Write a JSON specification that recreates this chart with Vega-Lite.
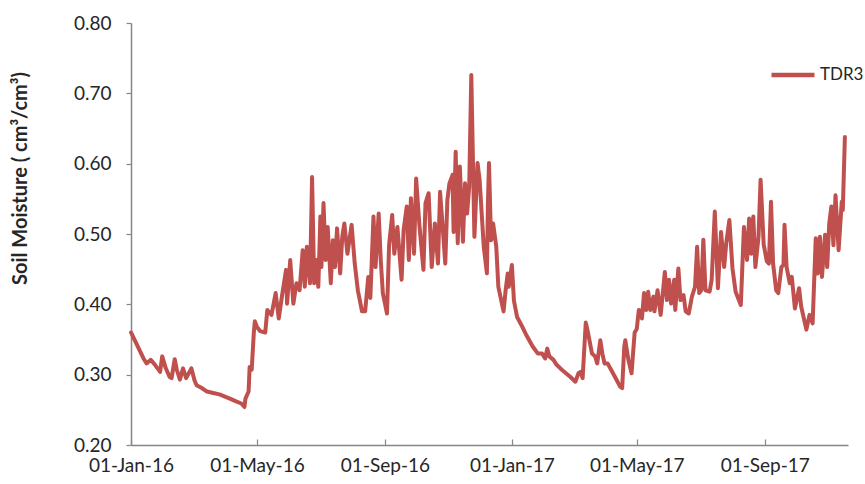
{
  "$schema": "https://vega.github.io/schema/vega-lite/v6.json",
  "autosize": {"type": "none"},
  "padding": {"left": 131, "top": 23, "right": 17, "bottom": 39},
  "width": 717,
  "height": 422,
  "config": {
    "view": {"stroke": null},
    "font": "Lato",
    "axis": {"labelFont": "Lato", "titleFont": "Lato", "grid": false, "domainColor": "#868686", "tickColor": "#868686", "labelColor": "#262626", "domainWidth": 1.5, "tickWidth": 1.2}
  },
  "data": {"values": [
    {"date": "2016-01-01", "v": 0.360, "s": "TDR3"},
    {"date": "2016-01-13", "v": 0.323, "s": "TDR3"},
    {"date": "2016-01-16", "v": 0.316, "s": "TDR3"},
    {"date": "2016-01-20", "v": 0.321, "s": "TDR3"},
    {"date": "2016-01-24", "v": 0.314, "s": "TDR3"},
    {"date": "2016-01-29", "v": 0.304, "s": "TDR3"},
    {"date": "2016-01-31", "v": 0.326, "s": "TDR3"},
    {"date": "2016-02-03", "v": 0.311, "s": "TDR3"},
    {"date": "2016-02-07", "v": 0.297, "s": "TDR3"},
    {"date": "2016-02-09", "v": 0.295, "s": "TDR3"},
    {"date": "2016-02-12", "v": 0.322, "s": "TDR3"},
    {"date": "2016-02-14", "v": 0.307, "s": "TDR3"},
    {"date": "2016-02-17", "v": 0.293, "s": "TDR3"},
    {"date": "2016-02-20", "v": 0.309, "s": "TDR3"},
    {"date": "2016-02-23", "v": 0.295, "s": "TDR3"},
    {"date": "2016-02-28", "v": 0.309, "s": "TDR3"},
    {"date": "2016-03-02", "v": 0.292, "s": "TDR3"},
    {"date": "2016-03-04", "v": 0.285, "s": "TDR3"},
    {"date": "2016-03-09", "v": 0.281, "s": "TDR3"},
    {"date": "2016-03-14", "v": 0.276, "s": "TDR3"},
    {"date": "2016-03-20", "v": 0.274, "s": "TDR3"},
    {"date": "2016-03-26", "v": 0.272, "s": "TDR3"},
    {"date": "2016-04-05", "v": 0.266, "s": "TDR3"},
    {"date": "2016-04-11", "v": 0.262, "s": "TDR3"},
    {"date": "2016-04-16", "v": 0.259, "s": "TDR3"},
    {"date": "2016-04-19", "v": 0.254, "s": "TDR3"},
    {"date": "2016-04-20", "v": 0.266, "s": "TDR3"},
    {"date": "2016-04-23", "v": 0.276, "s": "TDR3"},
    {"date": "2016-04-24", "v": 0.311, "s": "TDR3"},
    {"date": "2016-04-26", "v": 0.307, "s": "TDR3"},
    {"date": "2016-04-28", "v": 0.359, "s": "TDR3"},
    {"date": "2016-04-29", "v": 0.376, "s": "TDR3"},
    {"date": "2016-05-01", "v": 0.368, "s": "TDR3"},
    {"date": "2016-05-04", "v": 0.362, "s": "TDR3"},
    {"date": "2016-05-09", "v": 0.360, "s": "TDR3"},
    {"date": "2016-05-11", "v": 0.392, "s": "TDR3"},
    {"date": "2016-05-15", "v": 0.385, "s": "TDR3"},
    {"date": "2016-05-19", "v": 0.416, "s": "TDR3"},
    {"date": "2016-05-22", "v": 0.380, "s": "TDR3"},
    {"date": "2016-05-25", "v": 0.411, "s": "TDR3"},
    {"date": "2016-05-29", "v": 0.449, "s": "TDR3"},
    {"date": "2016-05-30", "v": 0.401, "s": "TDR3"},
    {"date": "2016-06-02", "v": 0.463, "s": "TDR3"},
    {"date": "2016-06-05", "v": 0.401, "s": "TDR3"},
    {"date": "2016-06-08", "v": 0.430, "s": "TDR3"},
    {"date": "2016-06-11", "v": 0.420, "s": "TDR3"},
    {"date": "2016-06-14", "v": 0.477, "s": "TDR3"},
    {"date": "2016-06-16", "v": 0.425, "s": "TDR3"},
    {"date": "2016-06-18", "v": 0.482, "s": "TDR3"},
    {"date": "2016-06-21", "v": 0.430, "s": "TDR3"},
    {"date": "2016-06-23", "v": 0.581, "s": "TDR3"},
    {"date": "2016-06-25", "v": 0.430, "s": "TDR3"},
    {"date": "2016-06-27", "v": 0.463, "s": "TDR3"},
    {"date": "2016-06-29", "v": 0.425, "s": "TDR3"},
    {"date": "2016-07-01", "v": 0.525, "s": "TDR3"},
    {"date": "2016-07-02", "v": 0.453, "s": "TDR3"},
    {"date": "2016-07-04", "v": 0.544, "s": "TDR3"},
    {"date": "2016-07-06", "v": 0.463, "s": "TDR3"},
    {"date": "2016-07-08", "v": 0.510, "s": "TDR3"},
    {"date": "2016-07-11", "v": 0.430, "s": "TDR3"},
    {"date": "2016-07-13", "v": 0.491, "s": "TDR3"},
    {"date": "2016-07-15", "v": 0.453, "s": "TDR3"},
    {"date": "2016-07-17", "v": 0.508, "s": "TDR3"},
    {"date": "2016-07-20", "v": 0.444, "s": "TDR3"},
    {"date": "2016-07-22", "v": 0.496, "s": "TDR3"},
    {"date": "2016-07-24", "v": 0.515, "s": "TDR3"},
    {"date": "2016-07-27", "v": 0.472, "s": "TDR3"},
    {"date": "2016-07-31", "v": 0.513, "s": "TDR3"},
    {"date": "2016-08-03", "v": 0.458, "s": "TDR3"},
    {"date": "2016-08-06", "v": 0.420, "s": "TDR3"},
    {"date": "2016-08-10", "v": 0.390, "s": "TDR3"},
    {"date": "2016-08-13", "v": 0.390, "s": "TDR3"},
    {"date": "2016-08-16", "v": 0.439, "s": "TDR3"},
    {"date": "2016-08-18", "v": 0.409, "s": "TDR3"},
    {"date": "2016-08-21", "v": 0.525, "s": "TDR3"},
    {"date": "2016-08-23", "v": 0.453, "s": "TDR3"},
    {"date": "2016-08-26", "v": 0.529, "s": "TDR3"},
    {"date": "2016-08-28", "v": 0.463, "s": "TDR3"},
    {"date": "2016-08-30", "v": 0.416, "s": "TDR3"},
    {"date": "2016-09-03", "v": 0.387, "s": "TDR3"},
    {"date": "2016-09-05", "v": 0.484, "s": "TDR3"},
    {"date": "2016-09-08", "v": 0.527, "s": "TDR3"},
    {"date": "2016-09-10", "v": 0.472, "s": "TDR3"},
    {"date": "2016-09-13", "v": 0.510, "s": "TDR3"},
    {"date": "2016-09-17", "v": 0.435, "s": "TDR3"},
    {"date": "2016-09-19", "v": 0.506, "s": "TDR3"},
    {"date": "2016-09-22", "v": 0.539, "s": "TDR3"},
    {"date": "2016-09-24", "v": 0.463, "s": "TDR3"},
    {"date": "2016-09-26", "v": 0.551, "s": "TDR3"},
    {"date": "2016-09-29", "v": 0.472, "s": "TDR3"},
    {"date": "2016-10-01", "v": 0.579, "s": "TDR3"},
    {"date": "2016-10-04", "v": 0.515, "s": "TDR3"},
    {"date": "2016-10-08", "v": 0.449, "s": "TDR3"},
    {"date": "2016-10-10", "v": 0.544, "s": "TDR3"},
    {"date": "2016-10-13", "v": 0.558, "s": "TDR3"},
    {"date": "2016-10-16", "v": 0.453, "s": "TDR3"},
    {"date": "2016-10-19", "v": 0.515, "s": "TDR3"},
    {"date": "2016-10-22", "v": 0.458, "s": "TDR3"},
    {"date": "2016-10-24", "v": 0.560, "s": "TDR3"},
    {"date": "2016-10-26", "v": 0.520, "s": "TDR3"},
    {"date": "2016-10-29", "v": 0.458, "s": "TDR3"},
    {"date": "2016-10-31", "v": 0.548, "s": "TDR3"},
    {"date": "2016-11-02", "v": 0.572, "s": "TDR3"},
    {"date": "2016-11-05", "v": 0.584, "s": "TDR3"},
    {"date": "2016-11-06", "v": 0.503, "s": "TDR3"},
    {"date": "2016-11-08", "v": 0.617, "s": "TDR3"},
    {"date": "2016-11-10", "v": 0.487, "s": "TDR3"},
    {"date": "2016-11-12", "v": 0.596, "s": "TDR3"},
    {"date": "2016-11-15", "v": 0.489, "s": "TDR3"},
    {"date": "2016-11-17", "v": 0.572, "s": "TDR3"},
    {"date": "2016-11-19", "v": 0.529, "s": "TDR3"},
    {"date": "2016-11-21", "v": 0.567, "s": "TDR3"},
    {"date": "2016-11-23", "v": 0.726, "s": "TDR3"},
    {"date": "2016-11-26", "v": 0.496, "s": "TDR3"},
    {"date": "2016-11-29", "v": 0.601, "s": "TDR3"},
    {"date": "2016-12-01", "v": 0.577, "s": "TDR3"},
    {"date": "2016-12-03", "v": 0.529, "s": "TDR3"},
    {"date": "2016-12-05", "v": 0.482, "s": "TDR3"},
    {"date": "2016-12-08", "v": 0.444, "s": "TDR3"},
    {"date": "2016-12-09", "v": 0.544, "s": "TDR3"},
    {"date": "2016-12-10", "v": 0.601, "s": "TDR3"},
    {"date": "2016-12-12", "v": 0.491, "s": "TDR3"},
    {"date": "2016-12-14", "v": 0.515, "s": "TDR3"},
    {"date": "2016-12-17", "v": 0.482, "s": "TDR3"},
    {"date": "2016-12-19", "v": 0.425, "s": "TDR3"},
    {"date": "2016-12-24", "v": 0.390, "s": "TDR3"},
    {"date": "2016-12-26", "v": 0.420, "s": "TDR3"},
    {"date": "2016-12-28", "v": 0.444, "s": "TDR3"},
    {"date": "2016-12-29", "v": 0.425, "s": "TDR3"},
    {"date": "2017-01-01", "v": 0.456, "s": "TDR3"},
    {"date": "2017-01-03", "v": 0.405, "s": "TDR3"},
    {"date": "2017-01-06", "v": 0.382, "s": "TDR3"},
    {"date": "2017-01-10", "v": 0.371, "s": "TDR3"},
    {"date": "2017-01-15", "v": 0.356, "s": "TDR3"},
    {"date": "2017-01-21", "v": 0.340, "s": "TDR3"},
    {"date": "2017-01-26", "v": 0.330, "s": "TDR3"},
    {"date": "2017-01-30", "v": 0.330, "s": "TDR3"},
    {"date": "2017-02-02", "v": 0.323, "s": "TDR3"},
    {"date": "2017-02-04", "v": 0.337, "s": "TDR3"},
    {"date": "2017-02-06", "v": 0.326, "s": "TDR3"},
    {"date": "2017-02-10", "v": 0.321, "s": "TDR3"},
    {"date": "2017-02-13", "v": 0.314, "s": "TDR3"},
    {"date": "2017-02-18", "v": 0.307, "s": "TDR3"},
    {"date": "2017-02-26", "v": 0.297, "s": "TDR3"},
    {"date": "2017-03-03", "v": 0.290, "s": "TDR3"},
    {"date": "2017-03-06", "v": 0.302, "s": "TDR3"},
    {"date": "2017-03-08", "v": 0.304, "s": "TDR3"},
    {"date": "2017-03-10", "v": 0.295, "s": "TDR3"},
    {"date": "2017-03-13", "v": 0.374, "s": "TDR3"},
    {"date": "2017-03-15", "v": 0.361, "s": "TDR3"},
    {"date": "2017-03-19", "v": 0.330, "s": "TDR3"},
    {"date": "2017-03-22", "v": 0.326, "s": "TDR3"},
    {"date": "2017-03-24", "v": 0.316, "s": "TDR3"},
    {"date": "2017-03-27", "v": 0.349, "s": "TDR3"},
    {"date": "2017-03-29", "v": 0.330, "s": "TDR3"},
    {"date": "2017-03-31", "v": 0.316, "s": "TDR3"},
    {"date": "2017-04-03", "v": 0.316, "s": "TDR3"},
    {"date": "2017-04-10", "v": 0.297, "s": "TDR3"},
    {"date": "2017-04-15", "v": 0.283, "s": "TDR3"},
    {"date": "2017-04-17", "v": 0.281, "s": "TDR3"},
    {"date": "2017-04-19", "v": 0.340, "s": "TDR3"},
    {"date": "2017-04-20", "v": 0.349, "s": "TDR3"},
    {"date": "2017-04-23", "v": 0.321, "s": "TDR3"},
    {"date": "2017-04-26", "v": 0.302, "s": "TDR3"},
    {"date": "2017-04-29", "v": 0.360, "s": "TDR3"},
    {"date": "2017-05-01", "v": 0.365, "s": "TDR3"},
    {"date": "2017-05-03", "v": 0.392, "s": "TDR3"},
    {"date": "2017-05-05", "v": 0.390, "s": "TDR3"},
    {"date": "2017-05-06", "v": 0.380, "s": "TDR3"},
    {"date": "2017-05-08", "v": 0.416, "s": "TDR3"},
    {"date": "2017-05-10", "v": 0.392, "s": "TDR3"},
    {"date": "2017-05-12", "v": 0.418, "s": "TDR3"},
    {"date": "2017-05-14", "v": 0.392, "s": "TDR3"},
    {"date": "2017-05-17", "v": 0.411, "s": "TDR3"},
    {"date": "2017-05-18", "v": 0.390, "s": "TDR3"},
    {"date": "2017-05-21", "v": 0.420, "s": "TDR3"},
    {"date": "2017-05-24", "v": 0.385, "s": "TDR3"},
    {"date": "2017-05-28", "v": 0.446, "s": "TDR3"},
    {"date": "2017-05-30", "v": 0.406, "s": "TDR3"},
    {"date": "2017-06-01", "v": 0.435, "s": "TDR3"},
    {"date": "2017-06-03", "v": 0.401, "s": "TDR3"},
    {"date": "2017-06-06", "v": 0.435, "s": "TDR3"},
    {"date": "2017-06-07", "v": 0.392, "s": "TDR3"},
    {"date": "2017-06-10", "v": 0.451, "s": "TDR3"},
    {"date": "2017-06-12", "v": 0.406, "s": "TDR3"},
    {"date": "2017-06-15", "v": 0.413, "s": "TDR3"},
    {"date": "2017-06-17", "v": 0.390, "s": "TDR3"},
    {"date": "2017-06-20", "v": 0.387, "s": "TDR3"},
    {"date": "2017-06-23", "v": 0.411, "s": "TDR3"},
    {"date": "2017-06-26", "v": 0.425, "s": "TDR3"},
    {"date": "2017-06-28", "v": 0.482, "s": "TDR3"},
    {"date": "2017-06-30", "v": 0.416, "s": "TDR3"},
    {"date": "2017-07-02", "v": 0.420, "s": "TDR3"},
    {"date": "2017-07-04", "v": 0.492, "s": "TDR3"},
    {"date": "2017-07-06", "v": 0.420, "s": "TDR3"},
    {"date": "2017-07-10", "v": 0.418, "s": "TDR3"},
    {"date": "2017-07-12", "v": 0.435, "s": "TDR3"},
    {"date": "2017-07-15", "v": 0.532, "s": "TDR3"},
    {"date": "2017-07-18", "v": 0.423, "s": "TDR3"},
    {"date": "2017-07-21", "v": 0.503, "s": "TDR3"},
    {"date": "2017-07-24", "v": 0.453, "s": "TDR3"},
    {"date": "2017-07-26", "v": 0.487, "s": "TDR3"},
    {"date": "2017-07-29", "v": 0.520, "s": "TDR3"},
    {"date": "2017-08-01", "v": 0.451, "s": "TDR3"},
    {"date": "2017-08-04", "v": 0.418, "s": "TDR3"},
    {"date": "2017-08-09", "v": 0.399, "s": "TDR3"},
    {"date": "2017-08-12", "v": 0.510, "s": "TDR3"},
    {"date": "2017-08-15", "v": 0.463, "s": "TDR3"},
    {"date": "2017-08-17", "v": 0.522, "s": "TDR3"},
    {"date": "2017-08-19", "v": 0.472, "s": "TDR3"},
    {"date": "2017-08-21", "v": 0.525, "s": "TDR3"},
    {"date": "2017-08-23", "v": 0.453, "s": "TDR3"},
    {"date": "2017-08-26", "v": 0.496, "s": "TDR3"},
    {"date": "2017-08-28", "v": 0.577, "s": "TDR3"},
    {"date": "2017-08-31", "v": 0.485, "s": "TDR3"},
    {"date": "2017-09-03", "v": 0.461, "s": "TDR3"},
    {"date": "2017-09-05", "v": 0.458, "s": "TDR3"},
    {"date": "2017-09-07", "v": 0.546, "s": "TDR3"},
    {"date": "2017-09-09", "v": 0.458, "s": "TDR3"},
    {"date": "2017-09-12", "v": 0.420, "s": "TDR3"},
    {"date": "2017-09-14", "v": 0.416, "s": "TDR3"},
    {"date": "2017-09-17", "v": 0.453, "s": "TDR3"},
    {"date": "2017-09-19", "v": 0.456, "s": "TDR3"},
    {"date": "2017-09-20", "v": 0.513, "s": "TDR3"},
    {"date": "2017-09-22", "v": 0.453, "s": "TDR3"},
    {"date": "2017-09-25", "v": 0.430, "s": "TDR3"},
    {"date": "2017-09-27", "v": 0.439, "s": "TDR3"},
    {"date": "2017-09-30", "v": 0.394, "s": "TDR3"},
    {"date": "2017-10-04", "v": 0.423, "s": "TDR3"},
    {"date": "2017-10-06", "v": 0.397, "s": "TDR3"},
    {"date": "2017-10-11", "v": 0.364, "s": "TDR3"},
    {"date": "2017-10-14", "v": 0.385, "s": "TDR3"},
    {"date": "2017-10-17", "v": 0.373, "s": "TDR3"},
    {"date": "2017-10-20", "v": 0.494, "s": "TDR3"},
    {"date": "2017-10-22", "v": 0.444, "s": "TDR3"},
    {"date": "2017-10-24", "v": 0.496, "s": "TDR3"},
    {"date": "2017-10-26", "v": 0.439, "s": "TDR3"},
    {"date": "2017-10-29", "v": 0.499, "s": "TDR3"},
    {"date": "2017-10-31", "v": 0.453, "s": "TDR3"},
    {"date": "2017-11-02", "v": 0.515, "s": "TDR3"},
    {"date": "2017-11-04", "v": 0.539, "s": "TDR3"},
    {"date": "2017-11-06", "v": 0.484, "s": "TDR3"},
    {"date": "2017-11-08", "v": 0.555, "s": "TDR3"},
    {"date": "2017-11-09", "v": 0.529, "s": "TDR3"},
    {"date": "2017-11-11", "v": 0.477, "s": "TDR3"},
    {"date": "2017-11-14", "v": 0.546, "s": "TDR3"},
    {"date": "2017-11-15", "v": 0.534, "s": "TDR3"},
    {"date": "2017-11-17", "v": 0.638, "s": "TDR3"}
  ]},
  "mark": {"type": "line", "strokeWidth": 4, "strokeJoin": "round", "strokeCap": "round"},
  "encoding": {
    "x": {
      "field": "date", "type": "temporal",
      "scale": {"type": "utc", "domain": [{"year": 2016, "month": 1, "date": 1, "utc": true}, {"year": 2017, "month": 11, "date": 20, "utc": true}]},
      "axis": {
        "title": null,
        "values": [
          {"year": 2016, "month": 1, "date": 1, "utc": true},
          {"year": 2016, "month": 5, "date": 1, "utc": true},
          {"year": 2016, "month": 9, "date": 1, "utc": true},
          {"year": 2017, "month": 1, "date": 1, "utc": true},
          {"year": 2017, "month": 5, "date": 1, "utc": true},
          {"year": 2017, "month": 9, "date": 1, "utc": true}
        ],
        "labelExpr": "utcFormat(datum.value, '%d-%b-%y')",
        "labelFontSize": 19, "labelFlush": false, "labelOverlap": false,
        "tickSize": -6, "labelPadding": 17
      }
    },
    "y": {
      "field": "v", "type": "quantitative",
      "scale": {"domain": [0.2, 0.8], "nice": false, "zero": false},
      "axis": {
        "title": "Soil Moisture ( cm³/cm³)",
        "titleFontSize": 20, "titleFontWeight": "bold", "titleColor": "#262626",
        "titleX": -111, "titleY": 155, "titleAnchor": "middle", "titleBaseline": "middle", "titleAngle": 270,
        "values": [0.2, 0.3, 0.4, 0.5, 0.6, 0.7, 0.8],
        "format": ".2f", "labelFontSize": 19, "tickSize": 5, "labelPadding": 15
      }
    },
    "color": {
      "field": "s", "type": "nominal",
      "scale": {"domain": ["TDR3"], "range": ["#C0504D"]},
      "legend": {
        "title": null, "orient": "none", "legendX": 638, "legendY": 28,
        "symbolType": "stroke", "symbolSize": 1850, "symbolStrokeWidth": 4.5,
        "labelFontSize": 17, "labelFont": "Lato", "labelColor": "#262626", "labelOffset": 3
      }
    }
  }
}
